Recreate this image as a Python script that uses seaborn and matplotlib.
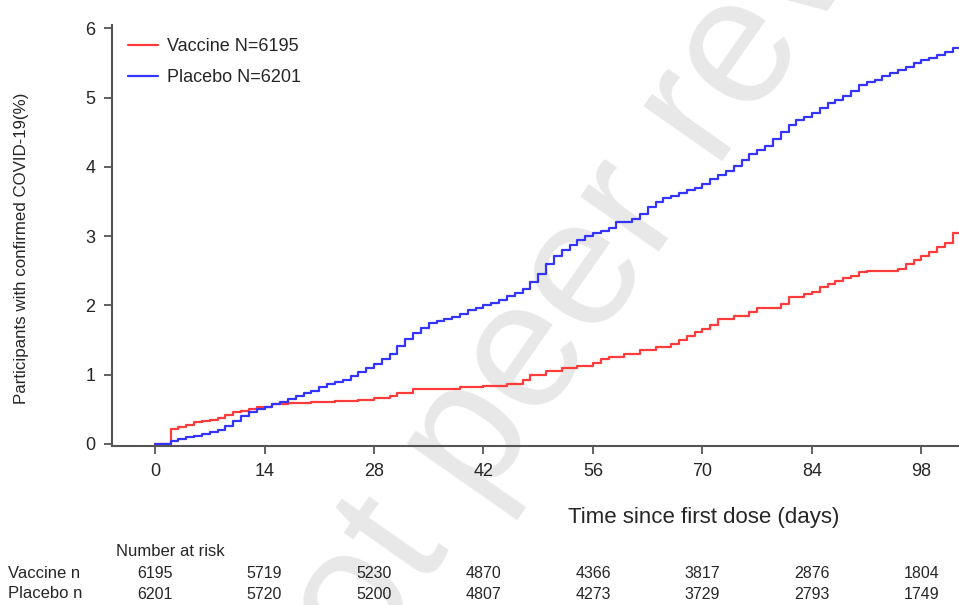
import pandas as pd
import seaborn as sns
import matplotlib.pyplot as plt
from matplotlib import font_manager

# cumulative incidence
vaccine_days = [0, 2, 3, 4, 5, 6, 7, 8, 9, 10, 11, 12, 13, 15, 17, 20, 23, 26, 28, 30,
                31, 33, 36, 39, 42, 45, 47, 48, 50, 52, 54, 56, 57, 58, 60, 62, 64, 66,
                67, 68, 69, 70, 71, 72, 74, 76, 77, 80, 81, 83, 84, 85, 86, 87, 88, 89,
                90, 91, 95, 96, 97, 98, 99, 100, 101, 102, 103]
vaccine_pct = [0, 0.22, 0.25, 0.28, 0.31, 0.33, 0.35, 0.38, 0.42, 0.46, 0.48, 0.51, 0.54,
               0.57, 0.59, 0.61, 0.62, 0.64, 0.66, 0.69, 0.74, 0.79, 0.8, 0.82, 0.84,
               0.87, 0.93, 0.99, 1.05, 1.09, 1.12, 1.17, 1.22, 1.26, 1.3, 1.35, 1.4,
               1.45, 1.5, 1.56, 1.61, 1.66, 1.72, 1.8, 1.85, 1.9, 1.96, 2.02, 2.12, 2.16,
               2.19, 2.27, 2.31, 2.35, 2.39, 2.43, 2.48, 2.5, 2.52, 2.6, 2.66, 2.72,
               2.77, 2.84, 2.9, 3.05, 3.05]

placebo_days = list(range(0, 104))
placebo_days.remove(1)
placebo_days.remove(60)
placebo_pct = [0, 0.04, 0.07, 0.1, 0.12, 0.14, 0.17, 0.2, 0.26, 0.33, 0.4, 0.46, 0.5,
               0.53, 0.57, 0.61, 0.65, 0.69, 0.73, 0.77, 0.82, 0.86, 0.89, 0.92, 0.98,
               1.04, 1.1, 1.15, 1.22, 1.3, 1.42, 1.52, 1.6, 1.67, 1.74, 1.77, 1.8, 1.84,
               1.88, 1.93, 1.97, 2.0, 2.04, 2.08, 2.13, 2.18, 2.24, 2.34, 2.46, 2.6,
               2.72, 2.8, 2.88, 2.95, 3.0, 3.04, 3.07, 3.12, 3.2, 3.25, 3.32, 3.42, 3.5,
               3.55, 3.58, 3.62, 3.66, 3.7, 3.76, 3.82, 3.88, 3.94, 4.02, 4.1, 4.18,
               4.25, 4.3, 4.4, 4.5, 4.6, 4.68, 4.72, 4.78, 4.85, 4.92, 4.96, 5.02, 5.1,
               5.18, 5.22, 5.26, 5.32, 5.36, 5.4, 5.44, 5.5, 5.54, 5.58, 5.62, 5.66,
               5.72, 5.74]

tick_days = [0, 14, 28, 42, 56, 70, 84, 98]
vaccine_at_risk = [6195, 5719, 5230, 4870, 4366, 3817, 2876, 1804]
placebo_at_risk = [6201, 5720, 5200, 4807, 4273, 3729, 2793, 1749]

vac_label = "Vaccine N=6195"
pla_label = "Placebo N=6201"

df = pd.concat([
    pd.DataFrame({"day": vaccine_days, "pct": vaccine_pct, "group": vac_label}),
    pd.DataFrame({"day": placebo_days, "pct": placebo_pct, "group": pla_label}),
])

sns.set_style("ticks")
names = {f.name for f in font_manager.fontManager.ttflist}
for fam in ["Liberation Sans Narrow", "DejaVu Sans Condensed", "Liberation Sans"]:
    if fam in names:
        break
plt.rcParams["font.family"] = [fam, "DejaVu Sans"]

fig = plt.figure(figsize=(9.59, 6.05), dpi=100)
ax = fig.add_axes([112 / 959, 1 - 446 / 605, 847 / 959, 421 / 605])
ax.patch.set_alpha(0)

# watermark, behind everything
fig.text(672 / 959, 1 - 152 / 605, "Not peer reviewed", fontsize=130, color="#e8e8e8",
         rotation=55, rotation_mode="anchor", ha="center", va="center",
         zorder=-5, family="Liberation Sans")

sns.lineplot(data=df, x="day", y="pct", hue="group",
             palette={vac_label: "#ff3b3b", pla_label: "#3434ff"},
             drawstyle="steps-post", linewidth=1.6, ax=ax, estimator=None)

ax.set_xlim(-5.5, 102.8)
ax.set_ylim(-0.03, 6.05)
ax.set_xticks(tick_days)
ax.set_yticks(range(0, 7))
for s in ["top", "right"]:
    ax.spines[s].set_visible(False)
for s in ["left", "bottom"]:
    ax.spines[s].set_color("#555555")
    ax.spines[s].set_linewidth(1.5)
ax.tick_params(direction="out", length=6, width=1.3, color="#555555",
               labelsize=13, pad=6)

ax.set_xlabel("Time since first dose (days)", fontsize=16)
ax.xaxis.set_label_coords(0.698, -0.145)
ax.set_ylabel("Participants with confirmed COVID-19(%)", fontsize=12.2)
ax.yaxis.set_label_coords(-0.098, 0.47)

leg = ax.legend(loc="upper left", bbox_to_anchor=(0.0, 1.008), frameon=False,
                fontsize=13, handlelength=1.66, handletextpad=0.5, labelspacing=0.8)
for h in leg.get_lines():
    h.set_linewidth(1.6)

# number at risk table
tr = ax.get_xaxis_transform()
ax.text(-5.0, -0.25, "Number at risk", transform=tr, fontsize=12,
        ha="left", va="center", clip_on=False)
fig.text(8 / 959, 1 - 574 / 605, "Vaccine n", fontsize=12, ha="left", va="center")
fig.text(8 / 959, 1 - 594 / 605, "Placebo n", fontsize=12, ha="left", va="center")
for d, v, p in zip(tick_days, vaccine_at_risk, placebo_at_risk):
    ax.text(d, -0.304, str(v), transform=tr, fontsize=11.5, ha="center",
            va="center", clip_on=False)
    ax.text(d, -0.352, str(p), transform=tr, fontsize=11.5, ha="center",
            va="center", clip_on=False)

fig.savefig("out.png", dpi=100)
